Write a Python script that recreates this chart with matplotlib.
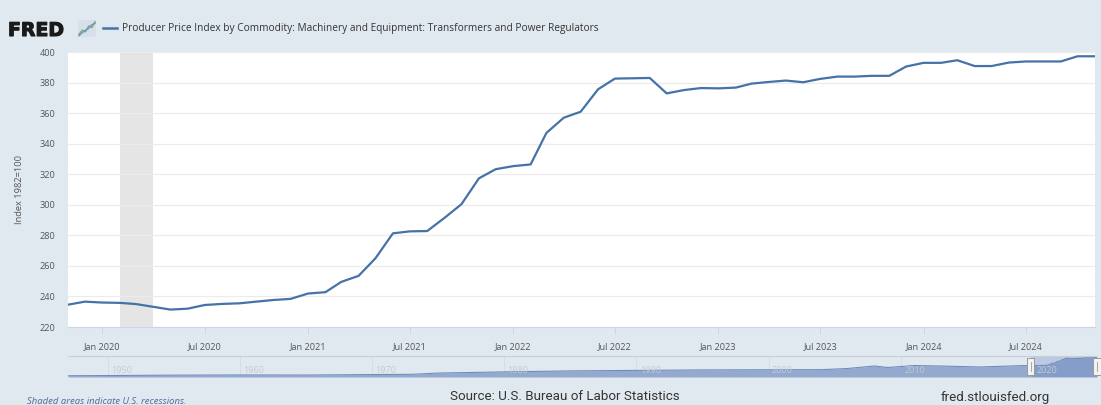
import numpy as np
import pandas as pd
import matplotlib
matplotlib.use("Agg")
import matplotlib.pyplot as plt
import matplotlib.dates as mdates
import matplotlib.patheffects as pe
from matplotlib.lines import Line2D
from matplotlib.patches import Rectangle

# monthly PPI values, Nov 2019 .. Nov 2024 (index 1982=100)
start_month = "2019-11-01"
ppi_values = [
    234.6, 236.6,
    236.0, 235.8, 235.0, 233.2, 231.4, 232.0, 234.4, 235.1, 235.5, 236.6, 237.7, 238.4,
    241.9, 242.8, 249.5, 253.5, 265.0, 281.3, 282.6, 282.8, 291.5, 300.4, 317.3, 323.3,
    325.3, 326.4, 347.0, 357.0, 360.9, 375.6, 382.6, 382.8, 383.0, 372.9, 375.1, 376.4,
    376.2, 376.7, 379.3, 380.4, 381.3, 380.2, 382.4, 383.9, 383.9, 384.4, 384.4, 390.5,
    392.9, 392.9, 394.6, 390.8, 390.8, 393.1, 393.8, 393.8, 393.8, 397.2, 397.2,
]

# rough long history shown in the navigator strip
nav_years = [1947, 1950, 1955, 1960, 1965, 1970, 1973, 1975, 1980, 1985, 1990, 1995,
             2000, 2004, 2006, 2008, 2009, 2011, 2013, 2016, 2019]
nav_values = [25, 30, 38, 42, 40, 50, 55, 80, 105, 125, 135, 145,
              148, 150, 175, 225, 195, 235, 225, 205, 232]

recession_start = "2020-02-01"
recession_end = "2020-04-01"

tick_months = ["2020-01", "2020-07", "2021-01", "2021-07", "2022-01",
               "2022-07", "2023-01", "2023-07", "2024-01", "2024-07"]
y_ticks = [220, 240, 260, 280, 300, 320, 340, 360, 380, 400]
decades = [1950, 1960, 1970, 1980, 1990, 2000, 2010, 2020]

title = "Producer Price Index by Commodity: Machinery and Equipment: Transformers and Power Regulators"

BG = "#e1e9f0"
LINE = "#4572a7"
W, H = 1101, 405

dates = pd.date_range(start_month, periods=len(ppi_values), freq="MS")

plt.rcParams["font.family"] = ["Open Sans", "DejaVu Sans"]
fig = plt.figure(figsize=(W / 100, H / 100), dpi=100, facecolor=BG)

def px(x0, y0, x1, y1):
    return [x0 / W, 1 - y1 / H, (x1 - x0) / W, (y1 - y0) / H]

# ---- main plot ----
ax = fig.add_axes(px(68, 52, 1095, 327))
ax.set_facecolor("white")
ax.plot(dates, ppi_values, color=LINE, lw=1.6, solid_joinstyle="round")
ax.axvspan(pd.Timestamp(recession_start), pd.Timestamp(recession_end),
           color="#e5e5e5", lw=0, zorder=0)
ax.set_xlim(dates[0], dates[-1])
ax.set_ylim(220, 400)
ax.set_yticks(y_ticks)
ax.grid(axis="y", color="#ececec", lw=0.9)
ax.set_axisbelow(True)
ax.set_xticks([pd.Timestamp(m + "-01") for m in tick_months])
ax.xaxis.set_major_formatter(mdates.DateFormatter("%b %Y"))
ax.tick_params(axis="x", colors="#ccd6eb", length=5, width=0.8, labelcolor="#555555",
               labelsize=6.6, pad=6)
ax.tick_params(axis="y", length=0, labelcolor="#555555", labelsize=6.6, pad=9)
for s in ["top", "right", "left"]:
    ax.spines[s].set_visible(False)
ax.spines["bottom"].set_color("#ccd6eb")
ax.set_ylabel("Index 1982=100", fontsize=6.7, color="#555555", labelpad=11)

# ---- navigator ----
nav = fig.add_axes(px(68, 356, 1097, 377))
nav.set_facecolor(BG)
main_years = [d.year + (d.month - 1) / 12 for d in dates]
all_x = list(nav_years) + main_years
all_y = list(nav_values) + list(ppi_values)
nav.fill_between(all_x, 0, all_y, color="#93a9cd", lw=0)
nav.plot(all_x, all_y, color="#6f8cbd", lw=0.8)
nav.axvspan(main_years[0], main_years[-1], color="#6685c2", alpha=0.3, lw=0)
nav.set_xlim(1947, main_years[-1])
nav.set_ylim(0, 430)
for d in decades:
    nav.axvline(d, color="#d6dde6", lw=0.7, zorder=0)
    nav.text(d + 0.25, 0.3, str(d), transform=nav.get_xaxis_transform(),
             fontsize=6.5, color="#c4cad1", va="center", ha="left")
nav.set_xticks([])
nav.set_yticks([])
for s in ["left", "right", "bottom"]:
    nav.spines[s].set_visible(False)
nav.spines["top"].set_color("#c8ced4")
for hx in [main_years[0], main_years[-1]]:
    nav.add_patch(Rectangle((hx - 0.27, 50), 0.54, 330, facecolor="#f2f2f2",
                            edgecolor="#999999", lw=0.7, clip_on=False, zorder=5))
    nav.plot([hx, hx], [130, 300], color="#999999", lw=0.6, clip_on=False, zorder=6)

# ---- header ----
fig.text(8 / W, 1 - 36 / H, "FRED", family="DejaVu Sans", weight="bold",
         fontsize=13.6, color="#1a1a1a", va="baseline",
         path_effects=[pe.withStroke(linewidth=0.8, foreground="#1a1a1a")])
icon = fig.add_axes(px(78, 20, 96, 37))
icon_a = [0.6, 1.6, 1.2, 2.6, 2.2, 3.6]
icon_b = [0.3, 1.0, 1.6, 2.0, 2.9, 3.2]
icon.set_facecolor("#d7e0ea")
icon.plot(icon_a, color="#79b06f", lw=1.0)
icon.plot(icon_b, color="#6f93c8", lw=1.0)
icon.set_ylim(0, 4)
icon.set_xlim(-0.3, 5.3)
icon.set_xticks([]); icon.set_yticks([])
for s in icon.spines.values():
    s.set_visible(False)
fig.add_artist(Line2D([103 / W, 117 / W], [1 - 28 / H, 1 - 28 / H], color=LINE, lw=1.8))
fig.text(122 / W, 1 - 28 / H, title, fontsize=7.25, color="#333333", va="center")

# ---- footer ----
fig.text(27 / W, 1 - 402 / H, "Shaded areas indicate U.S. recessions.", fontsize=6.8,
         style="italic", color="#4d6b9a", va="center")
fig.text(565 / W, 1 - 397 / H, "Source: U.S. Bureau of Labor Statistics", fontsize=9.6,
         family="Roboto", color="#333333", va="center", ha="center")
fig.text(995 / W, 1 - 397 / H, "fred.stlouisfed.org", fontsize=9.6, family="Roboto",
         color="#333333", va="center", ha="center")

fig.savefig("out.png", dpi=100, facecolor=BG)
